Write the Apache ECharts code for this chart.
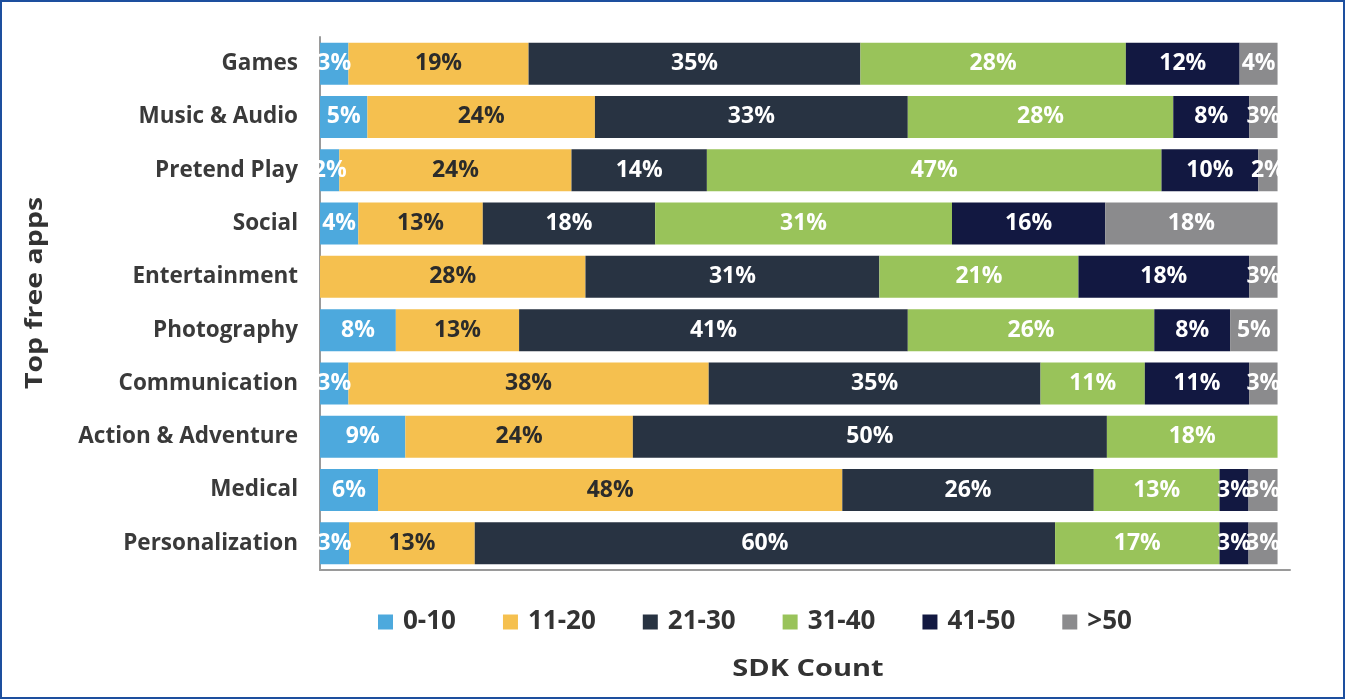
<!DOCTYPE html>
<html>
<head>
<meta charset="utf-8">
<script src="https://cdn.jsdelivr.net/npm/echarts@6/dist/echarts.min.js"></script>
<style>
  html, body { margin: 0; padding: 0; background: #fff; }
  #chart { width: 1346px; height: 700px; }
</style>
</head>
<body>
<div id="chart"></div>
<script>
// Categories (top to bottom)
const categories = ['Games', 'Music & Audio', 'Pretend Play', 'Social', 'Entertainment',
  'Photography', 'Communication', 'Action & Adventure', 'Medical', 'Personalization'];
// Legend / series names
const seriesNames = ['0-10', '11-20', '21-30', '31-40', '41-50', '>50'];
// Percent share per SDK-count bucket (0 = not shown)
const s0_10  = [3, 5, 2, 4, 0, 8, 3, 9, 6, 3];
const s11_20 = [19, 24, 24, 13, 28, 13, 38, 24, 48, 13];
const s21_30 = [35, 33, 14, 18, 31, 41, 35, 50, 26, 60];
const s31_40 = [28, 28, 47, 31, 21, 26, 11, 18, 13, 17];
const s41_50 = [12, 8, 10, 16, 18, 8, 11, 0, 3, 3];
const s50p   = [4, 3, 2, 18, 3, 5, 3, 0, 3, 3];
const xAxisTitle = 'SDK Count';
const yAxisTitle = 'Top free apps';

const allSeries = [s0_10, s11_20, s21_30, s31_40, s41_50, s50p];
const colors = ['#4DA9DD', '#F5C04F', '#283342', '#99C35A', '#121841', '#8B8B8D'];
const labelColors = ['#fff', '#2b2b2b', '#fff', '#fff', '#fff', '#fff'];

const rowSums = categories.map((c, i) => allSeries.reduce((a, s) => a + s[i], 0));

const FONT = '"Open Sans", "Noto Sans", sans-serif';

const series = allSeries.map((arr, k) => ({
  name: seriesNames[k],
  type: 'bar',
  stack: 'total',
  barWidth: 42,
  itemStyle: { color: colors[k] },
  label: {
    show: true,
    position: 'inside',
    color: labelColors[k],
    fontFamily: FONT,
    fontWeight: 'bold',
    fontSize: 23,
    formatter: p => (arr[p.dataIndex] > 0 ? arr[p.dataIndex] + '%' : '')
  },
  data: arr.map((v, i) => v / rowSums[i] * 100)
}));

const chart = echarts.init(document.getElementById('chart'), null, { renderer: 'canvas' });
chart.setOption({
  backgroundColor: '#fff',
  animation: false,
  textStyle: { fontFamily: FONT },
  grid: { left: 320, top: 37, right: 56, bottom: 130, containLabel: false },
  legend: {
    data: seriesNames,
    left: 373,
    top: 602,
    icon: 'rect',
    itemWidth: 15,
    itemHeight: 15,
    itemGap: 47,
    textStyle: { fontFamily: FONT, fontSize: 26, fontWeight: 'bold', color: '#333', lineHeight: 30, padding: [0, 0, 0, 5] }
  },
  xAxis: {
    type: 'value',
    min: 0,
    max: 101.3,
    axisLine: { show: true, lineStyle: { color: '#9a9a9a', width: 2 } },
    axisTick: { show: false },
    axisLabel: { show: false },
    splitLine: { show: false }
  },
  yAxis: {
    type: 'category',
    data: categories,
    inverse: true,
    axisLine: { show: true, lineStyle: { color: '#9a9a9a', width: 2 } },
    axisTick: { show: false },
    axisLabel: { margin: 22, fontFamily: FONT, fontSize: 22.5, fontWeight: 'bold', color: '#3a3a3a' }
  },
  graphic: [{
    type: 'rect',
    shape: { x: 1, y: 1, width: 1343, height: 697 },
    style: { fill: 'none', stroke: '#1D4F9E', lineWidth: 2 },
    silent: true
  }, {
    type: 'text',
    x: 808, y: 669,
    scaleX: 1.26,
    style: { text: xAxisTitle, font: 'bold 23px ' + FONT, fill: '#333', align: 'center', verticalAlign: 'middle' },
    silent: true
  }, {
    type: 'text',
    x: 35, y: 293,
    rotation: Math.PI / 2,
    scaleX: 1.24,
    style: { text: yAxisTitle, font: 'bold 23px ' + FONT, fill: '#333', align: 'center', verticalAlign: 'middle' },
    silent: true
  }],
  series: series
});
</script>
</body>
</html>
